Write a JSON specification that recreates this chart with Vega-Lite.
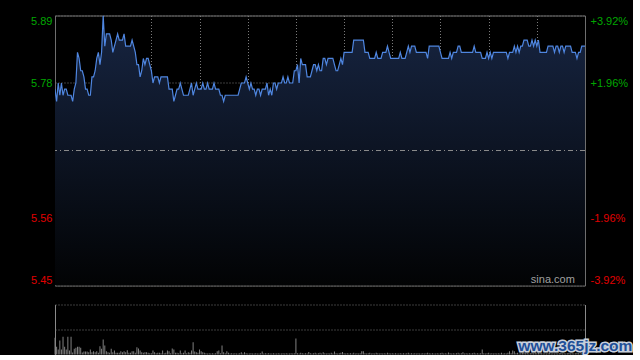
{
  "$schema": "https://vega.github.io/schema/vega-lite/v6.json",
  "background": "#000000",
  "padding": {"left": 30, "top": 14.5, "right": 0, "bottom": 0},
  "spacing": 18,
  "config": {
    "view": {"stroke": "#6e6e6e", "strokeWidth": 1},
    "font": "Liberation Sans",
    "axis": {"labelFont": "Liberation Sans", "labelFontSize": 11, "ticks": false, "domain": false, "title": null, "gridColor": "#7a7a7a", "gridDash": [1, 2], "gridWidth": 1, "zindex": 1}
  },
  "data": {"values": [
{"t":0,"p":5.77,"v":16.7},{"t":1,"p":5.75,"v":7.7},{"t":2,"p":5.78,"v":5},{"t":3,"p":5.76,"v":14},{"t":4,"p":5.78,"v":5},{"t":5,"p":5.76,"v":17.7},{"t":6,"p":5.77,"v":7.7},{"t":7,"p":5.77,"v":5},{"t":8,"p":5.76,"v":17.7},{"t":9,"p":5.76,"v":4},
{"t":10,"p":5.76,"v":17.7},{"t":11,"p":5.75,"v":2},{"t":12,"p":5.77,"v":5.7},{"t":13,"p":5.78,"v":6.7},{"t":14,"p":5.83,"v":7.7},{"t":15,"p":5.82,"v":7.7},{"t":16,"p":5.80,"v":6.7},{"t":17,"p":5.80,"v":2},{"t":18,"p":5.79,"v":3},{"t":19,"p":5.77,"v":3},
{"t":20,"p":5.77,"v":3},{"t":21,"p":5.76,"v":2.3},{"t":22,"p":5.76,"v":5},{"t":23,"p":5.79,"v":2.3},{"t":24,"p":5.79,"v":3.3},{"t":25,"p":5.80,"v":2.3},{"t":26,"p":5.82,"v":3.3},{"t":27,"p":5.83,"v":1.7},{"t":28,"p":5.81,"v":8.3},{"t":29,"p":5.83,"v":5.7},
{"t":30,"p":5.89,"v":15},{"t":31,"p":5.84,"v":9},{"t":32,"p":5.86,"v":3.3},{"t":33,"p":5.86,"v":2.3},{"t":34,"p":5.86,"v":1.7},{"t":35,"p":5.85,"v":5.7},{"t":36,"p":5.83,"v":2.3},{"t":37,"p":5.84,"v":4},{"t":38,"p":5.85,"v":1.7},{"t":39,"p":5.86,"v":1.7},
{"t":40,"p":5.85,"v":1.7},{"t":41,"p":5.85,"v":3.3},{"t":42,"p":5.85,"v":2.3},{"t":43,"p":5.86,"v":3.3},{"t":44,"p":5.84,"v":2.3},{"t":45,"p":5.84,"v":4.3},{"t":46,"p":5.84,"v":1.7},{"t":47,"p":5.84,"v":1.7},{"t":48,"p":5.85,"v":3.3},{"t":49,"p":5.84,"v":3.3},
{"t":50,"p":5.83,"v":1.7},{"t":51,"p":5.81,"v":7.3},{"t":52,"p":5.81,"v":6},{"t":53,"p":5.79,"v":4},{"t":54,"p":5.80,"v":2.3},{"t":55,"p":5.82,"v":1.7},{"t":56,"p":5.81,"v":2.3},{"t":57,"p":5.82,"v":2.3},{"t":58,"p":5.82,"v":1.7},{"t":59,"p":5.81,"v":1.3},
{"t":60,"p":5.80,"v":1.3},{"t":61,"p":5.78,"v":4},{"t":62,"p":5.79,"v":2.3},{"t":63,"p":5.79,"v":1.3},{"t":64,"p":5.79,"v":1.7},{"t":65,"p":5.78,"v":1.7},{"t":66,"p":5.79,"v":1.3},{"t":67,"p":5.79,"v":4},{"t":68,"p":5.79,"v":1.3},{"t":69,"p":5.79,"v":1.7},
{"t":70,"p":5.79,"v":4},{"t":71,"p":5.77,"v":3.3},{"t":72,"p":5.77,"v":1.3},{"t":73,"p":5.77,"v":6},{"t":74,"p":5.75,"v":5},{"t":75,"p":5.76,"v":1.7},{"t":76,"p":5.77,"v":1.7},{"t":77,"p":5.77,"v":1.3},{"t":78,"p":5.78,"v":4},{"t":79,"p":5.77,"v":1.3},
{"t":80,"p":5.76,"v":1.7},{"t":81,"p":5.76,"v":4},{"t":82,"p":5.76,"v":1.3},{"t":83,"p":5.76,"v":2.3},{"t":84,"p":5.77,"v":1.7},{"t":85,"p":5.78,"v":4},{"t":86,"p":5.76,"v":12.3},{"t":87,"p":5.77,"v":3},{"t":88,"p":5.78,"v":2.3},{"t":89,"p":5.77,"v":1.7},
{"t":90,"p":5.77,"v":5},{"t":91,"p":5.77,"v":3.3},{"t":92,"p":5.78,"v":2.3},{"t":93,"p":5.77,"v":1.7},{"t":94,"p":5.77,"v":1.3},{"t":95,"p":5.78,"v":1},{"t":96,"p":5.77,"v":1.3},{"t":97,"p":5.77,"v":1},{"t":98,"p":5.77,"v":1.3},{"t":99,"p":5.78,"v":1},
{"t":100,"p":5.77,"v":1.3},{"t":101,"p":5.77,"v":3.3},{"t":102,"p":5.77,"v":4},{"t":103,"p":5.76,"v":1.3},{"t":104,"p":5.76,"v":9},{"t":105,"p":5.75,"v":2.3},{"t":106,"p":5.76,"v":1.3},{"t":107,"p":5.76,"v":3.3},{"t":108,"p":5.76,"v":1.7},{"t":109,"p":5.76,"v":1},
{"t":110,"p":5.76,"v":1.3},{"t":111,"p":5.76,"v":1},{"t":112,"p":5.76,"v":1.3},{"t":113,"p":5.76,"v":1},{"t":114,"p":5.76,"v":1},{"t":115,"p":5.77,"v":1.3},{"t":116,"p":5.78,"v":2.3},{"t":117,"p":5.78,"v":1},{"t":118,"p":5.78,"v":2.3},{"t":119,"p":5.79,"v":1.3},
{"t":120,"p":5.78,"v":1},{"t":121,"p":5.77,"v":1},{"t":122,"p":5.78,"v":1.3},{"t":123,"p":5.77,"v":1},{"t":124,"p":5.77,"v":1},{"t":125,"p":5.76,"v":1.3},{"t":126,"p":5.77,"v":1},{"t":127,"p":5.77,"v":1},{"t":128,"p":5.76,"v":1.3},{"t":129,"p":5.77,"v":3},
{"t":130,"p":5.77,"v":1},{"t":131,"p":5.77,"v":1.3},{"t":132,"p":5.78,"v":1},{"t":133,"p":5.76,"v":1.3},{"t":134,"p":5.77,"v":1},{"t":135,"p":5.76,"v":1},{"t":136,"p":5.78,"v":1.3},{"t":137,"p":5.78,"v":1},{"t":138,"p":5.77,"v":1},{"t":139,"p":5.78,"v":1.3},
{"t":140,"p":5.78,"v":1},{"t":141,"p":5.78,"v":1},{"t":142,"p":5.79,"v":1.3},{"t":143,"p":5.78,"v":1},{"t":144,"p":5.78,"v":1.3},{"t":145,"p":5.79,"v":1},{"t":146,"p":5.78,"v":1},{"t":147,"p":5.78,"v":1.3},{"t":148,"p":5.78,"v":1},{"t":149,"p":5.80,"v":1.3},
{"t":150,"p":5.80,"v":16},{"t":151,"p":5.81,"v":1.3},{"t":152,"p":5.78,"v":1},{"t":153,"p":5.82,"v":1.7},{"t":154,"p":5.81,"v":1.3},{"t":155,"p":5.81,"v":1},{"t":156,"p":5.81,"v":1.3},{"t":157,"p":5.79,"v":1},{"t":158,"p":5.79,"v":2.5},{"t":159,"p":5.79,"v":1.3},
{"t":160,"p":5.80,"v":1},{"t":161,"p":5.81,"v":1.3},{"t":162,"p":5.81,"v":1.7},{"t":163,"p":5.80,"v":1},{"t":164,"p":5.81,"v":1.3},{"t":165,"p":5.80,"v":1.7},{"t":166,"p":5.80,"v":1},{"t":167,"p":5.82,"v":2.3},{"t":168,"p":5.82,"v":1.3},{"t":169,"p":5.81,"v":1},
{"t":170,"p":5.82,"v":1.3},{"t":171,"p":5.82,"v":1},{"t":172,"p":5.82,"v":1.7},{"t":173,"p":5.82,"v":1},{"t":174,"p":5.81,"v":3},{"t":175,"p":5.80,"v":1.3},{"t":176,"p":5.80,"v":1},{"t":177,"p":5.81,"v":1.3},{"t":178,"p":5.82,"v":1.7},{"t":179,"p":5.81,"v":2.5},
{"t":180,"p":5.83,"v":1.3},{"t":181,"p":5.83,"v":1},{"t":182,"p":5.83,"v":1.3},{"t":183,"p":5.83,"v":1},{"t":184,"p":5.83,"v":1.3},{"t":185,"p":5.83,"v":1},{"t":186,"p":5.85,"v":1.7},{"t":187,"p":5.85,"v":1},{"t":188,"p":5.85,"v":1.3},{"t":189,"p":5.85,"v":1},
{"t":190,"p":5.85,"v":1.3},{"t":191,"p":5.85,"v":3.3},{"t":192,"p":5.85,"v":3.3},{"t":193,"p":5.83,"v":1.3},{"t":194,"p":5.83,"v":1},{"t":195,"p":5.83,"v":1.3},{"t":196,"p":5.82,"v":1.7},{"t":197,"p":5.82,"v":1},{"t":198,"p":5.82,"v":1.3},{"t":199,"p":5.82,"v":1},
{"t":200,"p":5.83,"v":1.7},{"t":201,"p":5.82,"v":1.3},{"t":202,"p":5.82,"v":1},{"t":203,"p":5.82,"v":1.3},{"t":204,"p":5.83,"v":1},{"t":205,"p":5.83,"v":1.3},{"t":206,"p":5.83,"v":1},{"t":207,"p":5.84,"v":1.7},{"t":208,"p":5.83,"v":1.3},{"t":209,"p":5.82,"v":1},
{"t":210,"p":5.82,"v":1.3},{"t":211,"p":5.82,"v":1},{"t":212,"p":5.82,"v":1.3},{"t":213,"p":5.82,"v":1},{"t":214,"p":5.82,"v":1},{"t":215,"p":5.83,"v":1.3},{"t":216,"p":5.82,"v":1},{"t":217,"p":5.82,"v":1.3},{"t":218,"p":5.82,"v":1},{"t":219,"p":5.83,"v":1.3},
{"t":220,"p":5.84,"v":1.7},{"t":221,"p":5.83,"v":1},{"t":222,"p":5.84,"v":1.3},{"t":223,"p":5.84,"v":1},{"t":224,"p":5.84,"v":1.3},{"t":225,"p":5.83,"v":1},{"t":226,"p":5.83,"v":1.3},{"t":227,"p":5.83,"v":1},{"t":228,"p":5.83,"v":1},{"t":229,"p":5.83,"v":1.3},
{"t":230,"p":5.83,"v":1},{"t":231,"p":5.83,"v":1.3},{"t":232,"p":5.82,"v":1.7},{"t":233,"p":5.84,"v":1.3},{"t":234,"p":5.84,"v":1},{"t":235,"p":5.84,"v":1.3},{"t":236,"p":5.84,"v":1},{"t":237,"p":5.84,"v":1},{"t":238,"p":5.84,"v":1.3},{"t":239,"p":5.84,"v":1},
{"t":240,"p":5.83,"v":1.3},{"t":241,"p":5.82,"v":1.7},{"t":242,"p":5.82,"v":1},{"t":243,"p":5.82,"v":1.3},{"t":244,"p":5.82,"v":1},{"t":245,"p":5.82,"v":2},{"t":246,"p":5.83,"v":1.3},{"t":247,"p":5.82,"v":1},{"t":248,"p":5.83,"v":1.3},{"t":249,"p":5.83,"v":1},
{"t":250,"p":5.83,"v":1.3},{"t":251,"p":5.84,"v":1.7},{"t":252,"p":5.84,"v":1},{"t":253,"p":5.83,"v":1.3},{"t":254,"p":5.83,"v":2.3},{"t":255,"p":5.83,"v":1},{"t":256,"p":5.83,"v":1.3},{"t":257,"p":5.83,"v":1},{"t":258,"p":5.83,"v":1.3},{"t":259,"p":5.83,"v":1},
{"t":260,"p":5.83,"v":1.3},{"t":261,"p":5.84,"v":1.7},{"t":262,"p":5.83,"v":1},{"t":263,"p":5.83,"v":1.3},{"t":264,"p":5.83,"v":1},{"t":265,"p":5.83,"v":1.3},{"t":266,"p":5.82,"v":5},{"t":267,"p":5.82,"v":1.3},{"t":268,"p":5.82,"v":1},{"t":269,"p":5.83,"v":1.3},
{"t":270,"p":5.82,"v":1.7},{"t":271,"p":5.83,"v":1},{"t":272,"p":5.82,"v":1.3},{"t":273,"p":5.83,"v":1},{"t":274,"p":5.83,"v":1.3},{"t":275,"p":5.83,"v":1},{"t":276,"p":5.83,"v":1.3},{"t":277,"p":5.83,"v":1},{"t":278,"p":5.83,"v":1.7},{"t":279,"p":5.83,"v":1},
{"t":280,"p":5.83,"v":1.3},{"t":281,"p":5.83,"v":1},{"t":282,"p":5.82,"v":1.7},{"t":283,"p":5.83,"v":3.3},{"t":284,"p":5.83,"v":1.3},{"t":285,"p":5.83,"v":4},{"t":286,"p":5.84,"v":3.3},{"t":287,"p":5.83,"v":1.3},{"t":288,"p":5.84,"v":1.7},{"t":289,"p":5.83,"v":1},
{"t":290,"p":5.84,"v":1.3},{"t":291,"p":5.84,"v":1.7},{"t":292,"p":5.85,"v":2},{"t":293,"p":5.85,"v":1.3},{"t":294,"p":5.85,"v":1.7},{"t":295,"p":5.84,"v":1},{"t":296,"p":5.84,"v":1.3},{"t":297,"p":5.85,"v":1.7},{"t":298,"p":5.84,"v":1.3},{"t":299,"p":5.85,"v":1.7},
{"t":300,"p":5.84,"v":1.3},{"t":301,"p":5.85,"v":2},{"t":302,"p":5.83,"v":1.7},{"t":303,"p":5.83,"v":1.3},{"t":304,"p":5.83,"v":1},{"t":305,"p":5.83,"v":1.3},{"t":306,"p":5.83,"v":1},{"t":307,"p":5.84,"v":1.3},{"t":308,"p":5.84,"v":1.7},{"t":309,"p":5.84,"v":1},
{"t":310,"p":5.84,"v":1.3},{"t":311,"p":5.83,"v":1},{"t":312,"p":5.84,"v":1.3},{"t":313,"p":5.84,"v":1},{"t":314,"p":5.83,"v":1.3},{"t":315,"p":5.84,"v":1.7},{"t":316,"p":5.84,"v":1},{"t":317,"p":5.83,"v":1.3},{"t":318,"p":5.84,"v":1},{"t":319,"p":5.84,"v":1.3},
{"t":320,"p":5.84,"v":1.7},{"t":321,"p":5.84,"v":1},{"t":322,"p":5.83,"v":1.3},{"t":323,"p":5.83,"v":1},{"t":324,"p":5.83,"v":1.3},{"t":325,"p":5.82,"v":1.7},{"t":326,"p":5.83,"v":1.3},{"t":327,"p":5.83,"v":1},{"t":328,"p":5.84,"v":1.3},{"t":329,"p":5.84,"v":1.7},
{"t":330,"p":5.84,"v":2}
  ]},
  "vconcat": [
    {
      "width": 530,
      "height": 270,
      "layer": [
        {
          "mark": {"type": "area", "clip": true, "color": {"gradient": "linear", "x1": 0, "y1": 0, "x2": 0, "y2": 1, "stops": [{"offset": 0, "color": "#172542"}, {"offset": 1, "color": "#020304"}]}},
          "encoding": {
            "x": {"field": "t", "type": "quantitative", "scale": {"domain": [0, 330], "nice": false}, "axis": {"values": [30, 60, 90, 120, 150, 180, 210, 240, 270, 300], "labels": false, "grid": true, "minExtent": 0, "maxExtent": 0}},
            "y": {"field": "p", "type": "quantitative", "scale": {"domain": [5.45, 5.89], "zero": false, "nice": false}, "axis": {"orient": "left", "values": [5.45, 5.56, 5.78, 5.89], "format": ".2f", "grid": true, "labelFlush": true, "labelPadding": 3, "minExtent": 24, "maxExtent": 24, "labelColor": {"condition": {"test": "datum.value > 5.67", "value": "#00a800"}, "value": "#e00000"}}},
            "y2": {"datum": 5.45}
          }
        },
        {
          "mark": {"type": "line", "color": "#4f86e0", "strokeWidth": 1.2, "clip": true},
          "encoding": {
            "x": {"field": "t", "type": "quantitative"},
            "y": {"field": "p", "type": "quantitative", "axis": {"orient": "right", "values": [5.45, 5.56, 5.78, 5.89], "grid": false, "labelFlush": true, "labelPadding": 5, "minExtent": 45, "maxExtent": 45, "labelExpr": "datum.value > 5.85 ? '+3.92%' : datum.value > 5.7 ? '+1.96%' : datum.value > 5.5 ? '-1.96%' : '-3.92%'", "labelColor": {"condition": {"test": "datum.value > 5.67", "value": "#00a800"}, "value": "#e00000"}}}
          }
        },
        {
          "data": {"values": [{}]},
          "mark": {"type": "rule", "color": "#8a8a8a", "strokeDash": [5, 3, 1, 3], "strokeWidth": 1},
          "encoding": {"y": {"datum": 5.67, "type": "quantitative", "axis": null}}
        },
        {
          "data": {"values": [{}]},
          "mark": {"type": "text", "text": "sina.com", "color": "#a0a0a0", "fontSize": 11, "font": "Liberation Sans", "align": "center", "baseline": "bottom", "dy": -1},
          "encoding": {"x": {"datum": 310, "type": "quantitative"}, "y": {"datum": 5.45, "type": "quantitative", "axis": null}}
        }
      ],
      "resolve": {"axis": {"y": "independent"}}
    },
    {
      "width": 530,
      "height": 50,
      "view": {"stroke": null},
      "layer": [
        {
          "mark": {"type": "bar", "color": "#808080", "size": 1},
          "encoding": {
            "x": {"field": "t", "type": "quantitative", "scale": {"domain": [0, 330], "nice": false, "padding": 0}, "axis": {"values": [0, 330], "labels": false, "grid": true, "gridDash": [], "gridColor": "#8a8a8a", "minExtent": 0, "maxExtent": 0}},
            "y": {"field": "v", "type": "quantitative", "scale": {"domain": [0, 50], "nice": false}, "axis": {"values": [25, 50], "labels": false, "grid": true, "minExtent": 24, "maxExtent": 24}}
          }
        },
        {
          "data": {"values": [{}]},
          "mark": {"type": "text", "text": "www.365jz.com", "font": "Liberation Sans", "fontSize": 15.5, "fontWeight": "bold", "fill": "#c8d0dc", "stroke": "#c8d0dc", "strokeWidth": 3, "align": "center", "baseline": "middle"},
          "encoding": {"x": {"datum": 324, "type": "quantitative"}, "y": {"datum": 9, "type": "quantitative"}}
        },
        {
          "data": {"values": [{}]},
          "mark": {"type": "text", "text": "www.365jz.com", "font": "Liberation Sans", "fontSize": 15.5, "fontWeight": "bold", "fill": "#1f4f98", "align": "center", "baseline": "middle"},
          "encoding": {"x": {"datum": 324, "type": "quantitative"}, "y": {"datum": 9, "type": "quantitative"}}
        }
      ]
    }
  ]
}
